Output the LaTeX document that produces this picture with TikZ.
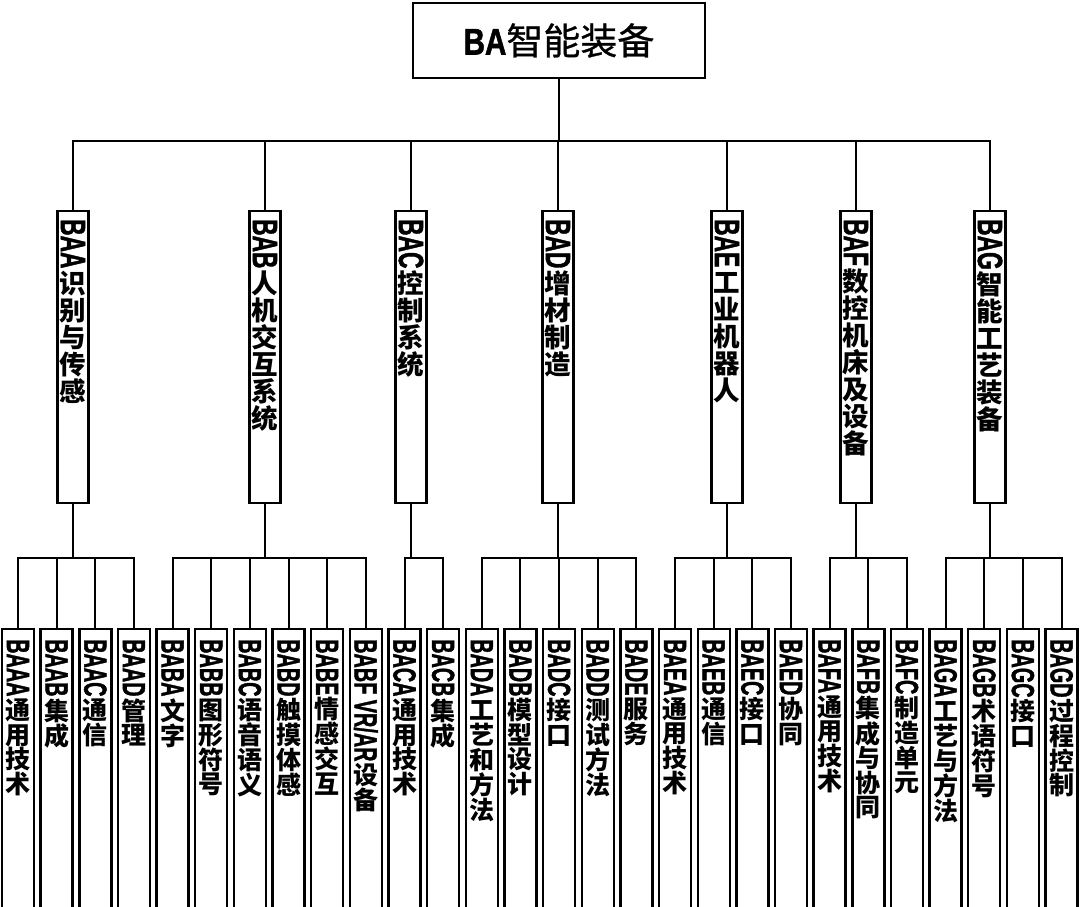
\documentclass[tikz,border=0pt]{standalone}
\usepackage{fontspec}
\usepackage{graphicx}
\newfontfamily\cjkf{Noto Sans CJK SC}
\newfontfamily\cjkreg[FakeBold=0.8]{Noto Sans CJK SC}
\newfontfamily\latf[FakeBold=1.6]{Liberation Sans}
\newlength\vpitch
\def\vchars#1{\ifx\relax#1\else\hbox to 28pt{\hss\vrule height .86\vpitch depth .14\vpitch width 0pt\relax #1\hss}\expandafter\vchars\fi}
\newcommand\vtext[6]{%
  \vbox{\offinterlineskip
    \hbox to 28pt{\hss\rotatebox{-90}{\scalebox{#2}[1]{\fontsize{#1}{#1}\latf\bfseries #5}}\hss}%
    \kern2pt
    \fontsize{#3}{#3}\cjkf\bfseries\vpitch=#4\relax
    \vchars#6\relax}}
\newcommand\midtext[2]{\vbox to 292pt{\kern8pt\vtext{35pt}{0.65}{26.5pt}{27pt}{#1}{#2}\vss}}
\newcommand\leaftext[2]{\vbox to 300pt{\kern10pt\vtext{32pt}{0.62}{25pt}{24.5pt}{#1}{#2}\vss}}
\tikzset{
  conn/.style={draw, line width=2pt},
  box/.style={draw, line width=2.4pt, rectangle, inner sep=0pt, fill=white, line join=miter},
  midbox/.style={box, minimum width=31pt, minimum height=292pt, anchor=north},
  leafbox/.style={box, minimum width=32pt, minimum height=300pt, anchor=north},
  topbox/.style={box, minimum width=292pt, minimum height=75pt},
}
\newcommand\leaf[5]{%
  \node[leafbox] (#2) at ({18+38.65*#1}, 628) {\leaftext{#3}{#4}};
  \draw[conn] (#5.south) -- ++(0,54) -| (#2.north);
}
\begin{document}
\begin{tikzpicture}[x=1pt,y=-1pt]
\useasboundingbox (0,0) rectangle (1080,906);
\fill[white] (0,0) rectangle (1080,906);
\clip (0,0) rectangle (1080,906);
\node[topbox] (BA) at (559,40.5) {\fontsize{37pt}{37pt}\selectfont\scalebox{0.8}[1]{\latf\bfseries BA}\cjkreg 智能装备};
\node[midbox] (BAA) at (73,210) {\midtext{BAA}{识别与传感}};
\node[midbox] (BAB) at (265,210) {\midtext{BAB}{人机交互系统}};
\node[midbox] (BAC) at (411,210) {\midtext{BAC}{控制系统}};
\node[midbox] (BAD) at (558,210) {\midtext{BAD}{增材制造}};
\node[midbox] (BAE) at (727,210) {\midtext{BAE}{工业机器人}};
\node[midbox] (BAF) at (856,210) {\midtext{BAF}{数控机床及设备}};
\node[midbox] (BAG) at (990,210) {\midtext{BAG}{智能工艺装备}};
\foreach \c in {BAA,BAB,BAC,BAD,BAE,BAF,BAG}
  \draw[conn] (BA.south) -- ++(0,62) -| (\c.north);
\leaf{0}{BAAA}{BAAA}{通用技术}{BAA}
\leaf{1}{BAAB}{BAAB}{集成}{BAA}
\leaf{2}{BAAC}{BAAC}{通信}{BAA}
\leaf{3}{BAAD}{BAAD}{管理}{BAA}
\leaf{4}{BABA}{BABA}{文字}{BAB}
\leaf{5}{BABB}{BABB}{图形符号}{BAB}
\leaf{6}{BABC}{BABC}{语音语义}{BAB}
\leaf{7}{BABD}{BABD}{触摸体感}{BAB}
\leaf{8}{BABE}{BABE}{情感交互}{BAB}
\leaf{9}{BABF}{BABF VR/AR}{设备}{BAB}
\leaf{10}{BACA}{BACA}{通用技术}{BAC}
\leaf{11}{BACB}{BACB}{集成}{BAC}
\leaf{12}{BADA}{BADA}{工艺和方法}{BAD}
\leaf{13}{BADB}{BADB}{模型设计}{BAD}
\leaf{14}{BADC}{BADC}{接口}{BAD}
\leaf{15}{BADD}{BADD}{测试方法}{BAD}
\leaf{16}{BADE}{BADE}{服务}{BAD}
\leaf{17}{BAEA}{BAEA}{通用技术}{BAE}
\leaf{18}{BAEB}{BAEB}{通信}{BAE}
\leaf{19}{BAEC}{BAEC}{接口}{BAE}
\leaf{20}{BAED}{BAED}{协同}{BAE}
\leaf{21}{BAFA}{BAFA}{通用技术}{BAF}
\leaf{22}{BAFB}{BAFB}{集成与协同}{BAF}
\leaf{23}{BAFC}{BAFC}{制造单元}{BAF}
\leaf{24}{BAGA}{BAGA}{工艺与方法}{BAG}
\leaf{25}{BAGB}{BAGB}{术语符号}{BAG}
\leaf{26}{BAGC}{BAGC}{接口}{BAG}
\leaf{27}{BAGD}{BAGD}{过程控制}{BAG}
\end{tikzpicture}
\end{document}
